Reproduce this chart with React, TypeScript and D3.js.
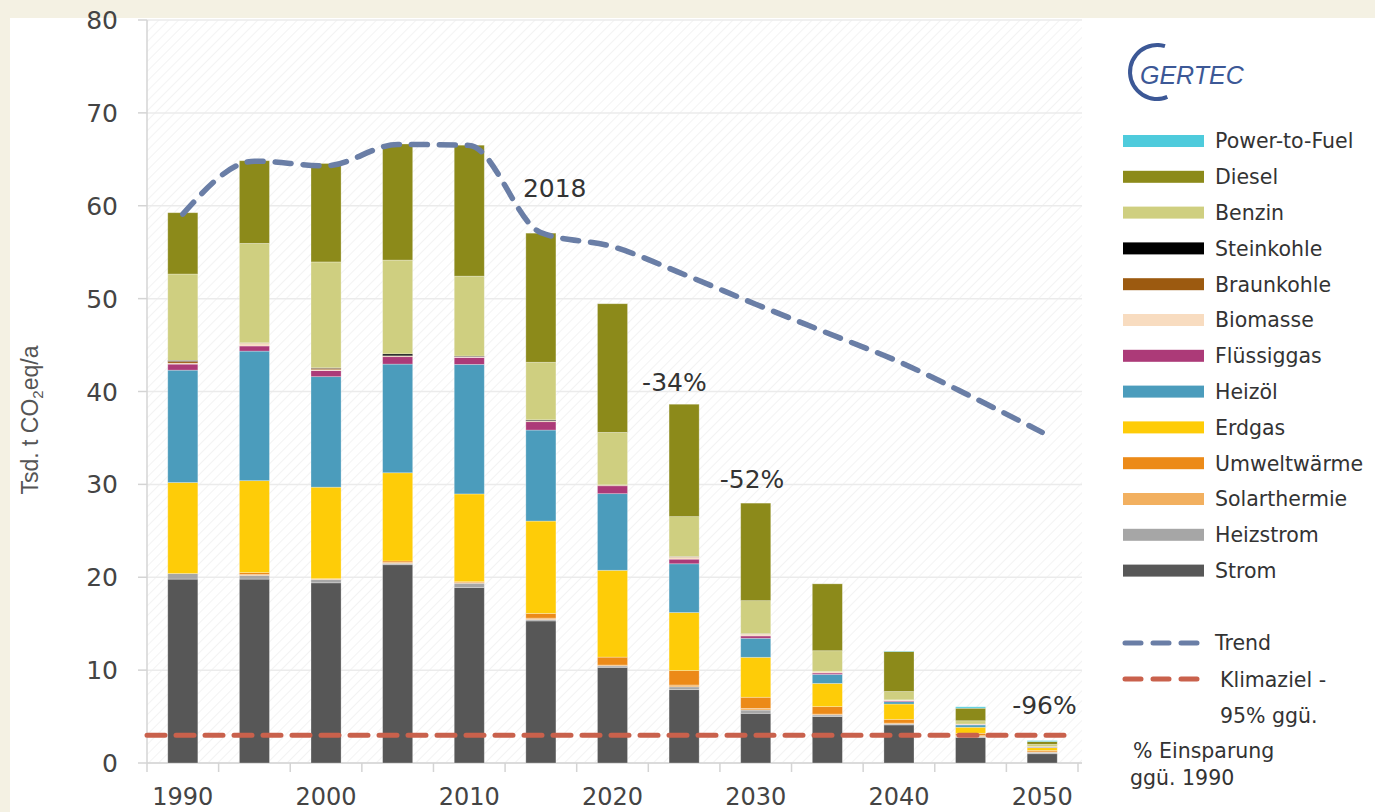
import React from 'react';
import * as d3 from 'd3';

const years = [1990, 1995, 2000, 2005, 2010, 2015, 2020, 2025, 2030, 2035, 2040, 2045, 2050];

// Tsd. t CO2eq/a per energy carrier (stack from bottom to top)
const strom = [19.8, 19.8, 19.4, 21.35, 18.9, 15.3, 10.3, 7.9, 5.35, 5.0, 4.1, 2.75, 1.0];
const heizstrom = [0.6, 0.4, 0.35, 0.15, 0.45, 0.15, 0.15, 0.3, 0.35, 0.17, 0.1, 0.1, 0.15];
const solarthermie = [0, 0.1, 0.05, 0.1, 0.07, 0.15, 0.1, 0.2, 0.18, 0.1, 0.1, 0.1, 0.05];
const umweltwaerme = [0, 0.2, 0.05, 0.15, 0.1, 0.5, 0.85, 1.55, 1.2, 0.8, 0.4, 0.25, 0.15];
const erdgas = [9.8, 9.9, 9.85, 9.5, 9.45, 9.95, 9.35, 6.25, 4.3, 2.5, 1.65, 0.65, 0.3];
const heizoel = [12.1, 13.95, 11.9, 11.7, 13.95, 9.8, 8.25, 5.25, 2.05, 0.97, 0.25, 0.25, 0.05];
const fluessiggas = [0.65, 0.55, 0.65, 0.8, 0.75, 0.9, 0.85, 0.5, 0.25, 0.15, 0.1, 0.05, 0.03];
const biomasse = [0.1, 0.3, 0.1, 0.05, 0.05, 0.05, 0.05, 0.2, 0.2, 0.15, 0.1, 0.05, 0.03];
const braunkohle = [0.2, 0.05, 0.15, 0.05, 0.05, 0.05, 0.05, 0.05, 0.03, 0, 0, 0, 0];
const steinkohle = [0.1, 0, 0.05, 0.2, 0.05, 0.1, 0, 0.03, 0.02, 0, 0, 0, 0];
const benzin = [9.3, 10.7, 11.4, 10.1, 8.6, 6.2, 5.65, 4.3, 3.55, 2.25, 0.9, 0.35, 0.25];
const diesel = [6.6, 8.9, 10.6, 12.5, 14.1, 13.9, 13.85, 12.1, 10.5, 7.2, 4.3, 1.35, 0.3];
const powerToFuel = [0, 0, 0, 0, 0, 0, 0, 0, 0, 0, 0.05, 0.15, 0.1];

const trend = [59.1, 64.8, 64.3, 66.6, 66.5, 57.1, 55.6, 52.6, 49.4, 46.3, 43.2, 39.5, 35.6];
const klimaziel = 3;

const annotations = [
  { year: 2015, value: 57.1, text: '2018', dx: -18, dy: -36 },
  { year: 2025, value: 38.6, text: '-34%', dx: -42, dy: -14 },
  { year: 2030, value: 28.1, text: '-52%', dx: -36, dy: -14 },
  { year: 2050, value: 2.3, text: '-96%', dx: -30, dy: -28 },
];

const yTicks = [0, 10, 20, 30, 40, 50, 60, 70, 80];

const series = [
  { key: 'Strom', values: strom, color: '#575757' },
  { key: 'Heizstrom', values: heizstrom, color: '#a6a6a6' },
  { key: 'Solarthermie', values: solarthermie, color: '#f2b060' },
  { key: 'Umweltwärme', values: umweltwaerme, color: '#ec8a18' },
  { key: 'Erdgas', values: erdgas, color: '#fecc08' },
  { key: 'Heizöl', values: heizoel, color: '#4b9cbc' },
  { key: 'Flüssiggas', values: fluessiggas, color: '#ac3a78' },
  { key: 'Biomasse', values: biomasse, color: '#f8dcc0' },
  { key: 'Braunkohle', values: braunkohle, color: '#9c5a10' },
  { key: 'Steinkohle', values: steinkohle, color: '#000000' },
  { key: 'Benzin', values: benzin, color: '#cfcf80' },
  { key: 'Diesel', values: diesel, color: '#8c8a1a' },
  { key: 'Power-to-Fuel', values: powerToFuel, color: '#4ecbdc' },
];

const W = 1375;
const H = 812;
const left = 147;
const right = 1078;
const top = 20;
const bottom = 763;
const font = 'DejaVu Sans, sans-serif';

export default function App() {
  const rows = years.map((y, i) => {
    const r: Record<string, number> = { year: y };
    series.forEach(s => { r[s.key] = s.values[i]; });
    return r;
  });
  const stacked = d3.stack<Record<string, number>>().keys(series.map(s => s.key))(rows);

  const x = d3.scaleBand<number>().domain(years).range([left, right]).paddingInner(0.58).paddingOuter(0.29);
  const y = d3.scaleLinear().domain([0, 80]).range([bottom, top]);
  const cx = (yr: number) => (x(yr) as number) + x.bandwidth() / 2;

  const trendLine = d3.line<number>()
    .x((_, i) => cx(years[i]))
    .y(d => y(d))
    .curve(d3.curveMonotoneX);

  const step = x.step();
  const legendRows = series.slice().reverse();

  return (
    <svg width={W} height={H} style={{ position: 'fixed', left: 0, top: 0 }}>
      <defs>
        <pattern id="hatch" width="7" height="7" patternUnits="userSpaceOnUse" patternTransform="rotate(45)">
          <line x1="0" y1="0" x2="0" y2="7" stroke="#ebebeb" strokeWidth="1.2" />
        </pattern>
      </defs>
      <rect x={0} y={0} width={W} height={H} fill="#f4f1e3" />
      <rect x={10} y={18} width={W - 10} height={H - 18} fill="#ffffff" />

      {/* plot background */}
      <rect x={left} y={top} width={1082 - left} height={bottom - top} fill="url(#hatch)" />
      {yTicks.map(t => (
        <g key={t}>
          <line x1={left} x2={1082} y1={y(t)} y2={y(t)} stroke="#ebebeb" strokeWidth={1.5} />
          <line x1={138} x2={left} y1={y(t)} y2={y(t)} stroke="#d4d4d4" strokeWidth={1.5} />
          <text x={118} y={y(t)} dy="0.36em" textAnchor="end" fontFamily={font} fontSize={25} fill="#444">{t}</text>
        </g>
      ))}
      <line x1={left} x2={left} y1={top} y2={bottom} stroke="#d4d4d4" strokeWidth={1.5} />
      <line x1={left} x2={1082} y1={bottom} y2={bottom} stroke="#d4d4d4" strokeWidth={1.5} />
      {d3.range(years.length + 1).map(i => (
        <line key={i} x1={left + i * step} x2={left + i * step} y1={bottom} y2={bottom + 9} stroke="#d4d4d4" strokeWidth={1.5} />
      ))}
      {years.filter(yr => yr % 10 === 0).map(yr => (
        <text key={yr} x={cx(yr)} y={805} textAnchor="middle" fontFamily={font} fontSize={24} fill="#444">{yr}</text>
      ))}

      <text transform="translate(38,420) rotate(-90)" textAnchor="middle" fontFamily="Liberation Sans, Arial, sans-serif" fontSize={23} fill="#555">
        Tsd. t CO<tspan fontSize={15} dy={5}>2</tspan><tspan dy={-5}>eq/a</tspan>
      </text>

      {/* bars */}
      {stacked.map((layer, li) => (
        <g key={layer.key} fill={series[li].color}>
          {layer.map((d, i) => (d[1] - d[0] > 0 ? (
            <rect key={i} x={x(years[i])} width={x.bandwidth()} y={y(d[1])} height={y(d[0]) - y(d[1])}
              stroke="#ffffff" strokeOpacity={0.35} strokeWidth={0.8} />
          ) : null))}
        </g>
      ))}

      {/* Klimaziel */}
      <line x1={left} x2={1075} y1={y(klimaziel)} y2={y(klimaziel)} stroke="#c9614c" strokeWidth={5}
        strokeDasharray="18 11" strokeLinecap="round" />
      {/* Trend */}
      <path d={trendLine(trend) || ''} fill="none" stroke="#6a7ea6" strokeWidth={5.5}
        strokeDasharray="16 12" strokeLinecap="round" />

      {annotations.map(a => (
        <text key={a.text} x={cx(a.year) + a.dx} y={y(a.value) + a.dy} fontFamily={font} fontSize={25} fill="#333">{a.text}</text>
      ))}

      {/* logo */}
      <path d={d3.arc()({ innerRadius: 25, outerRadius: 29, startAngle: 2.75, endAngle: 2 * Math.PI + 0.3 }) || ''}
        transform="translate(1157,72)" fill="#3c5896" />
      <text x={1140} y={84} fontFamily="Liberation Sans, Arial, sans-serif" fontStyle="italic" fontSize={25} fill="#3c5896">GERTEC</text>

      {/* legend */}
      {legendRows.map((s, i) => (
        <g key={s.key} transform={`translate(1123,${141 + i * 35.8})`}>
          <rect x={0} y={-6} width={81} height={12} fill={s.color} />
          <text x={92} y={0} dy="0.36em" fontFamily={font} fontSize={20.5} fill="#333">{s.key}</text>
        </g>
      ))}
      <g transform="translate(1123,643)">
        <line x1={2} x2={80} y1={0} y2={0} stroke="#6a7ea6" strokeWidth={5} strokeDasharray="16 12" strokeLinecap="round" />
        <text x={92} y={0} dy="0.36em" fontFamily={font} fontSize={20.5} fill="#333">Trend</text>
      </g>
      <g transform="translate(1123,679)">
        <line x1={2} x2={80} y1={0} y2={0} stroke="#c9614c" strokeWidth={5} strokeDasharray="16 12" strokeLinecap="round" />
        <text x={97} y={8} fontFamily={font} fontSize={20.5} fill="#333">Klimaziel -</text>
        <text x={97} y={44} fontFamily={font} fontSize={20.5} fill="#333">95% ggü.</text>
      </g>
      <text x={1133} y={758} fontFamily={font} fontSize={20.5} fill="#333">% Einsparung</text>
      <text x={1130} y={785} fontFamily={font} fontSize={20.5} fill="#333">ggü. 1990</text>
    </svg>
  );
}
